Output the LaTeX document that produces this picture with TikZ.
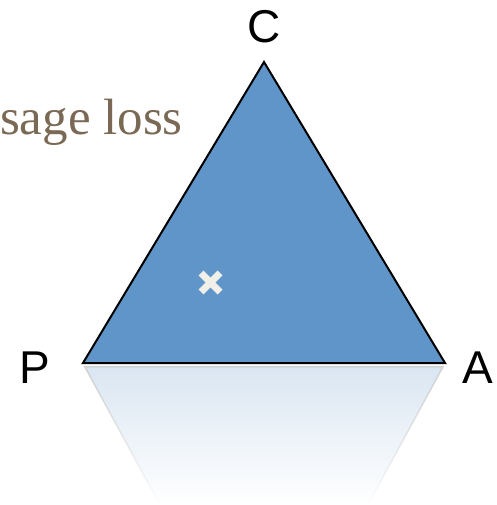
\documentclass[tikz,border=0pt]{standalone}
\usepackage{fontspec}
\setmainfont{Liberation Serif}
\newfontfamily\arialfont{Liberation Sans}
\usetikzlibrary{fadings}
\definecolor{triblue}{HTML}{5F95C9}
\definecolor{reflblue}{HTML}{DAE6F2}
\definecolor{losstext}{HTML}{7A6A55}
\definecolor{markcol}{HTML}{F0F0E8}
\tikzset{
  vlabel/.style={font=\arialfont\fontsize{46}{46}\selectfont, text=black, inner sep=0pt},
  tri/.style={fill=triblue, draw=black, line width=2pt, line join=miter},
  xmark/.style={draw=markcol, line width=7pt, line cap=butt}
}
\begin{document}
\begin{tikzpicture}[x=1pt,y=-1pt]
\useasboundingbox (0,0) rectangle (496,505);
% vertices
\coordinate (p) at (83,363);
\coordinate (a) at (445,363);
\coordinate (c) at (264,62);
% reflection
\coordinate (rp) at (85,367);
\coordinate (ra) at (443,367);
\coordinate (rpb) at (160,505);
\coordinate (rab) at (368,505);
\shade[top color=reflblue, bottom color=white] (rp) -- (ra) -- (rab) -- (rpb) -- cycle;
\draw[gray!35, line width=1.5pt, path fading=south] (rpb) -- (rp) -- (ra) -- (rab);
% triangle
\draw[tri] (p) -- (a) -- (c) -- cycle;
% mark
\coordinate (m1) at (201,273);
\coordinate (m2) at (220,292);
\coordinate (m3) at (201,292);
\coordinate (m4) at (220,273);
\draw[xmark] (m1) -- (m2);
\draw[xmark] (m3) -- (m4);
% labels
\node[vlabel] (lc) at (264,27) {C};
\node[vlabel] (lp) at (35,368) {P};
\node[vlabel] (la) at (478,368) {A};
\node[anchor=base east, inner sep=0pt, text=losstext, font=\fontsize{51}{51}\selectfont] (loss) at (183,135) {sage loss};
\end{tikzpicture}
\end{document}
